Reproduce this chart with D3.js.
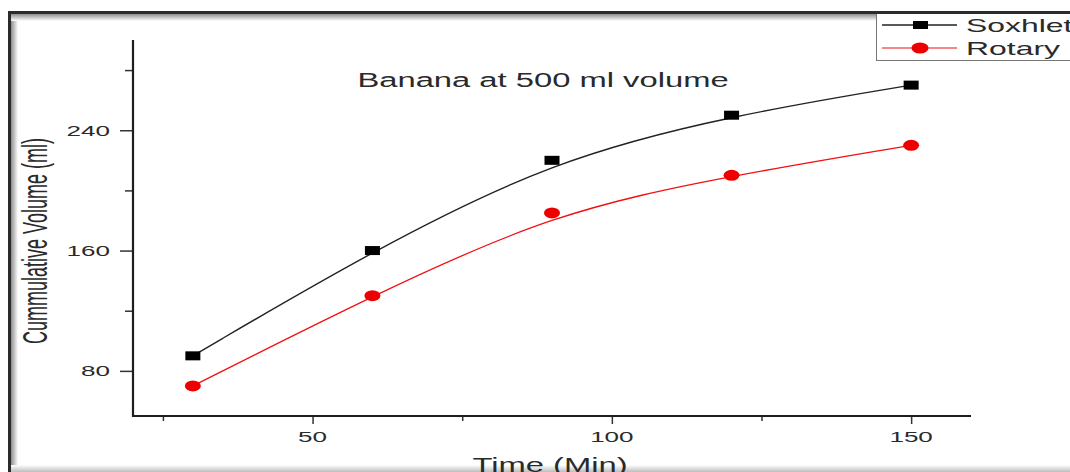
<!DOCTYPE html>
<html>
<head>
<meta charset="utf-8">
<script src="https://cdn.jsdelivr.net/npm/d3@7"></script>
<style>
  body { margin: 0; background: #fff; }
  text { font-family: "Liberation Sans", Arial, sans-serif; fill: #2a2a2a; }
</style>
</head>
<body>
<div id="chart"></div>
<script>
// Data
const timeMin = [30, 60, 90, 120, 150];
const soxhlet = [90, 160, 220, 250, 270];
const rotary = [70, 130, 185, 210, 230];
const xMajorTicks = [50, 100, 150];
const xMinorTicks = [25, 75, 125];
const yMajorTicks = [80, 160, 240];
const yMinorTicks = [120, 200, 280];
const seriesNames = ["Soxhlet", "Rotary"];

// the original picture is stretched horizontally, so text gets the same stretch
const SX = 1.68;

class LineChartVis {
  constructor(_parentElement) {
    this.parentElement = _parentElement;
    this.initVis();
  }

  initVis() {
    let vis = this;

    vis.width = 1070;
    vis.height = 472;

    vis.svg = d3
      .select("#" + vis.parentElement)
      .append("svg")
      .attr("width", vis.width)
      .attr("height", vis.height);

    vis.drawFrame();

    // Scales
    vis.x = d3.scaleLinear().domain([20, 160]).range([133, 971]);
    vis.y = d3.scaleLinear().domain([50, 300]).range([416, 40]);

    vis.drawAxes();
    vis.drawSeries();
    vis.drawText();
    vis.drawLegend();
  }

  drawFrame() {
    let vis = this;
    let defs = vis.svg.append("defs");

    let gl = defs.append("linearGradient").attr("id", "shadeLeft");
    gl.append("stop").attr("offset", "0%").attr("stop-color", "#8e8e8e");
    gl.append("stop").attr("offset", "100%").attr("stop-color", "#fff");

    let gt = defs.append("linearGradient").attr("id", "shadeTop")
      .attr("x1", 0).attr("y1", 0).attr("x2", 0).attr("y2", 1);
    gt.append("stop").attr("offset", "0%").attr("stop-color", "#8e8e8e");
    gt.append("stop").attr("offset", "100%").attr("stop-color", "#fff");

    let gb = defs.append("linearGradient").attr("id", "shadeBottom")
      .attr("x1", 0).attr("y1", 0).attr("x2", 0).attr("y2", 1);
    gb.append("stop").attr("offset", "0%").attr("stop-color", "#fff");
    gb.append("stop").attr("offset", "100%").attr("stop-color", "#bdbdbd");

    // inner shadows
    vis.svg.append("rect").attr("x", 11).attr("y", 14)
      .attr("width", 7).attr("height", 460).attr("fill", "url(#shadeLeft)");
    vis.svg.append("rect").attr("x", 11).attr("y", 14)
      .attr("width", 1070).attr("height", 7).attr("fill", "url(#shadeTop)");
    vis.svg.append("rect").attr("x", 11).attr("y", 465)
      .attr("width", 1070).attr("height", 7).attr("fill", "url(#shadeBottom)");

    // dark outer border (left and top)
    vis.svg.append("path")
      .attr("d", "M9.5,472 V12.5 H1070")
      .attr("fill", "none")
      .attr("stroke", "#2b2b2b")
      .attr("stroke-width", 3);
  }

  drawAxes() {
    let vis = this;

    // major and minor ticks
    vis.svg.append("g")
      .attr("transform", "translate(0,416)")
      .call(d3.axisBottom(vis.x).tickValues(xMajorTicks).tickSize(8).tickFormat(""));
    vis.svg.append("g")
      .attr("transform", "translate(0,416)")
      .call(d3.axisBottom(vis.x).tickValues(xMinorTicks).tickSize(5).tickFormat(""));
    vis.svg.append("g")
      .attr("transform", "translate(133,0)")
      .call(d3.axisLeft(vis.y).tickValues(yMajorTicks).tickSize(13).tickFormat(""));
    vis.svg.append("g")
      .attr("transform", "translate(133,0)")
      .call(d3.axisLeft(vis.y).tickValues(yMinorTicks).tickSize(8).tickFormat(""));

    vis.svg.selectAll(".domain").remove();
    vis.svg.selectAll(".tick line").attr("stroke", "#333").attr("stroke-width", 1.5);

    // axis lines
    vis.svg.append("path")
      .attr("d", "M133," + vis.y(300) + " V416 H" + vis.x(160))
      .attr("fill", "none")
      .attr("stroke", "#1e1e1e")
      .attr("stroke-width", 2.2);

    // tick labels
    xMajorTicks.forEach((d) => {
      vis.stretchedText(vis.x(d), 442, d, 15.5, "middle");
    });
    yMajorTicks.forEach((d) => {
      vis.stretchedText(110, vis.y(d) + 5.5, d, 15.5, "end");
    });
  }

  drawSeries() {
    let vis = this;

    let line = d3.line()
      .x((d) => vis.x(d[0]))
      .y((d) => vis.y(d[1]))
      .curve(d3.curveBasis);

    let sox = timeMin.map((t, i) => [t, soxhlet[i]]);
    let rot = timeMin.map((t, i) => [t, rotary[i]]);

    vis.svg.append("path")
      .datum(sox)
      .attr("d", line)
      .attr("fill", "none")
      .attr("stroke", "#222")
      .attr("stroke-width", 1.4);

    vis.svg.append("path")
      .datum(rot)
      .attr("d", line)
      .attr("fill", "none")
      .attr("stroke", "#f01010")
      .attr("stroke-width", 1.3);

    vis.svg.selectAll(".sox")
      .data(sox)
      .enter()
      .append("rect")
      .attr("class", "sox")
      .attr("x", (d) => vis.x(d[0]) - 7.5)
      .attr("y", (d) => vis.y(d[1]) - 4.5)
      .attr("width", 15)
      .attr("height", 9)
      .attr("fill", "#000");

    vis.svg.selectAll(".rot")
      .data(rot)
      .enter()
      .append("ellipse")
      .attr("class", "rot")
      .attr("cx", (d) => vis.x(d[0]))
      .attr("cy", (d) => vis.y(d[1]))
      .attr("rx", 8)
      .attr("ry", 5.5)
      .attr("fill", "#ee0000");
  }

  drawText() {
    let vis = this;

    vis.stretchedText(543, 87, "Banana at 500 ml volume", 19.5, "middle");
    vis.stretchedText(550, 472, "Time (Min)", 19.5, "middle");

    // rotated y label, stretched across its height like the picture
    vis.svg.append("g")
      .attr("transform", "translate(47,241) scale(1.95,1) rotate(-90)")
      .append("text")
      .attr("text-anchor", "middle")
      .attr("font-size", 18)
      .text("Cummulative Volume (ml)");
  }

  drawLegend() {
    let vis = this;

    vis.svg.append("rect")
      .attr("x", 876.5)
      .attr("y", 12.5)
      .attr("width", 300)
      .attr("height", 48)
      .attr("fill", "#fff")
      .attr("stroke", "#777")
      .attr("stroke-width", 1);

    // top border again over the legend box
    vis.svg.append("path")
      .attr("d", "M870,12.5 H1070")
      .attr("stroke", "#2b2b2b")
      .attr("stroke-width", 3);

    let rows = [
      { name: seriesNames[0], y: 25, color: "#222", line: "#222", marker: "rect" },
      { name: seriesNames[1], y: 48, color: "#ee0000", line: "#f06060", marker: "ellipse" }
    ];

    rows.forEach((r) => {
      vis.svg.append("line")
        .attr("x1", 882).attr("x2", 957)
        .attr("y1", r.y).attr("y2", r.y)
        .attr("stroke", r.line)
        .attr("stroke-width", 1.5);
      if (r.marker === "rect") {
        vis.svg.append("rect")
          .attr("x", 913).attr("y", r.y - 4)
          .attr("width", 15).attr("height", 8)
          .attr("fill", "#000");
      } else {
        vis.svg.append("ellipse")
          .attr("cx", 920).attr("cy", r.y)
          .attr("rx", 8.5).attr("ry", 5.5)
          .attr("fill", r.color);
      }
      vis.stretchedText(966, r.y + 6.5, r.name, 19, "start");
    });
  }

  stretchedText(x, y, str, size, anchor) {
    let vis = this;
    vis.svg.append("g")
      .attr("transform", "translate(" + x + "," + y + ") scale(" + SX + ",1)")
      .append("text")
      .attr("text-anchor", anchor)
      .attr("font-size", size)
      .text(str);
  }
}

new LineChartVis("chart");
</script>
</body>
</html>
